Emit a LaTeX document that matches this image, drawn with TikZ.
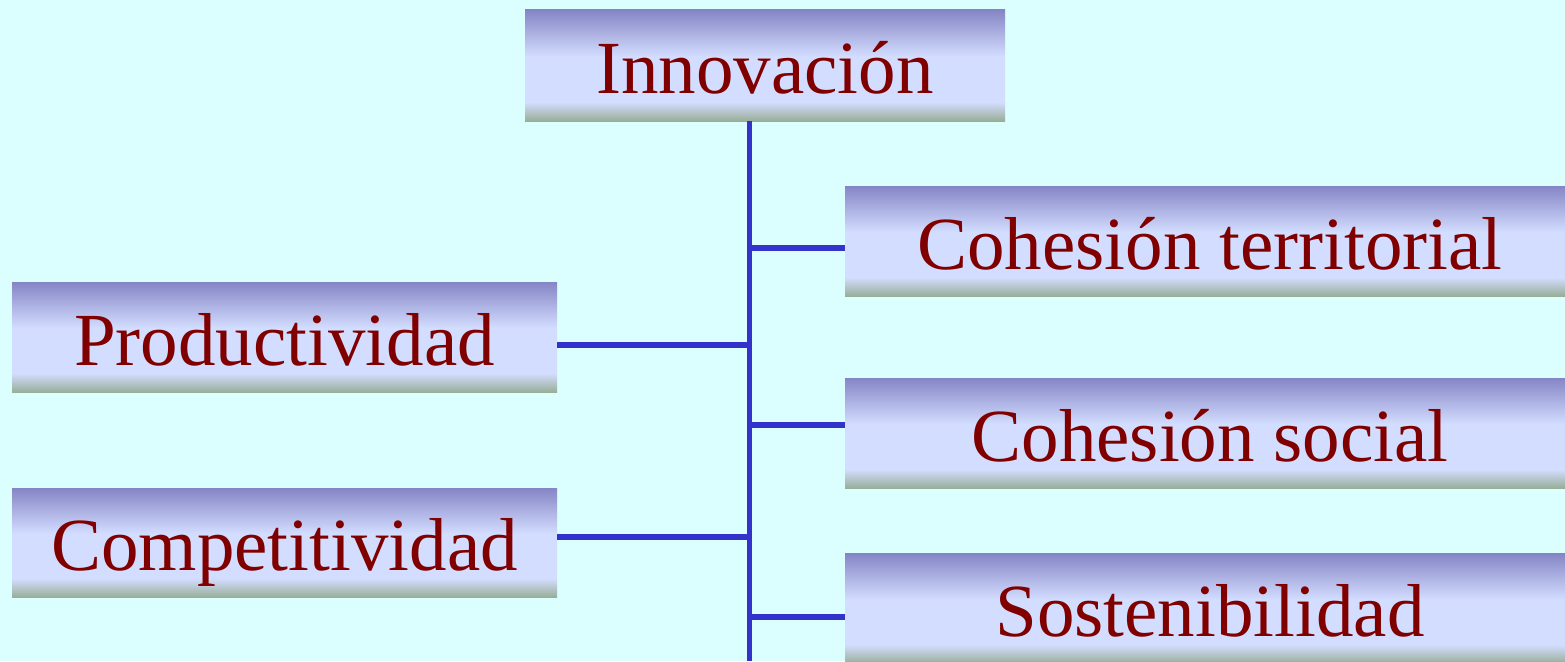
\documentclass[tikz,border=0pt]{standalone}
\usepackage{fontspec}
\setmainfont{Liberation Serif}
\newfontfamily\tnr{Liberation Serif}
\definecolor{bgc}{HTML}{DBFFFF}
\definecolor{topc}{HTML}{8585C5}
\definecolor{midc}{HTML}{D3DDFF}
\definecolor{botc}{HTML}{98AE98}
\definecolor{txtc}{HTML}{800000}
\definecolor{linec}{HTML}{3333CC}
\pgfdeclareverticalshading{boxshade}{100bp}{color(0bp)=(botc); color(25bp)=(botc); color(33.5bp)=(midc); color(54bp)=(midc); color(75bp)=(topc); color(100bp)=(topc)}
\tikzset{
  box/.style={shading=boxshade, inner sep=0pt, text=txtc,
    font=\tnr\fontsize{75pt}{90pt}\selectfont, text height=62pt, text depth=6pt},
  conn/.style={draw=linec, line width=5.5pt}
}
\begin{document}
\begin{tikzpicture}[x=1pt,y=-1pt]
\fill[bgc] (0,0) rectangle (1565,661);
\useasboundingbox (0,0) rectangle (1565,661);
\node[box, minimum width=480pt, minimum height=111pt] (inn) at (765,65.5) {Innovación};
\node[box, minimum width=730pt, minimum height=110pt] (ct) at (1210,241) {Cohesión territorial};
\node[box, minimum width=545pt, minimum height=110pt] (pr) at (284.5,337) {Productividad};
\node[box, minimum width=730pt, minimum height=110pt] (cs) at (1210,433) {Cohesión social};
\node[box, minimum width=545pt, minimum height=109pt] (co) at (284.5,542.5) {Competitividad};
\node[box, minimum width=730pt, minimum height=110pt] (so) at (1210,608.5) {Sostenibilidad};
\coordinate (bot) at (749.5,661);
\draw[conn] (inn.south -| bot) -- (bot);
\draw[conn] (ct.west |- 0,248) -- (bot |- 0,248);
\draw[conn] (pr.east |- 0,345) -- (bot |- 0,345);
\draw[conn] (cs.west |- 0,425) -- (bot |- 0,425);
\draw[conn] (co.east |- 0,537) -- (bot |- 0,537);
\draw[conn] (so.west |- 0,617) -- (bot |- 0,617);
\end{tikzpicture}
\end{document}
